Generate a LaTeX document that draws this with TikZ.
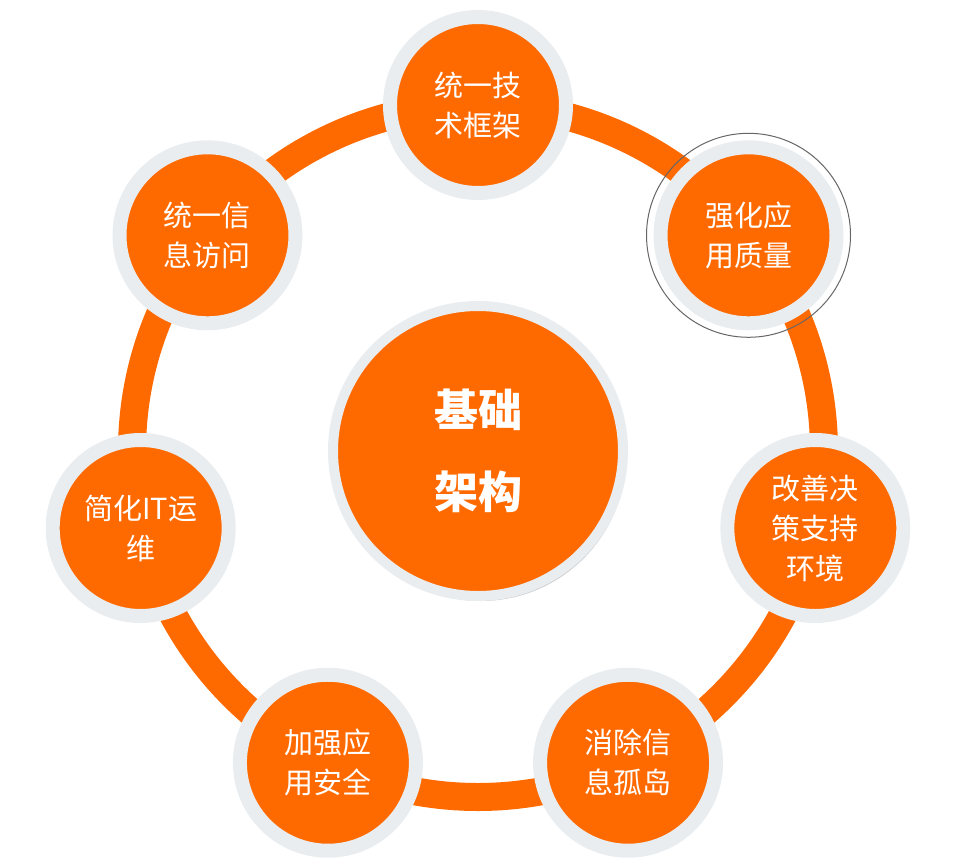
\documentclass[tikz,border=0pt]{standalone}
\usepackage{fontspec}
\newfontfamily\cjk{Noto Sans CJK SC}
\usetikzlibrary{shadows,calc}
\definecolor{org}{HTML}{FF6A00}
\definecolor{rim}{HTML}{E9EDF0}
\tikzset{
  outer/.style={circle,fill=org,draw=rim,line width=14pt,minimum size=176pt,inner sep=0pt,text=white,font=\cjk\fontsize{29}{40}\selectfont,align=center},
  centerc/.style={circle,fill=org,draw=rim,line width=10pt,minimum size=290pt,inner sep=0pt,text=white,font=\cjk\bfseries\fontsize{44}{82}\selectfont,align=center,drop shadow={shadow xshift=3pt,shadow yshift=-5pt,opacity=0.4}}
}
\begin{document}
\begin{tikzpicture}[x=1pt,y=-1pt]
\useasboundingbox (0,0) rectangle (954,868);
\coordinate (c) at (478,451);
\draw[org,line width=28pt] (c) circle[radius=346];
\node[centerc] (m) at (c) {基础\\架构};
\foreach \n/\a/\t in {a/90/{统一技\\术框架},b/38.57/{强化应\\用质量},c1/-12.86/{改善决\\策支持\\环境},d/-64.29/{消除信\\息孤岛},e/-115.71/{加强应\\用安全},f/-167.14/{简化IT运\\维},g/141.43/{统一信\\息访问}}
  \node[outer] (\n) at ($(c)+(\a:346 and -346)$) {\t};
\draw[gray!80!black,line width=1pt] (b) circle[radius=102];
\end{tikzpicture}
\end{document}
